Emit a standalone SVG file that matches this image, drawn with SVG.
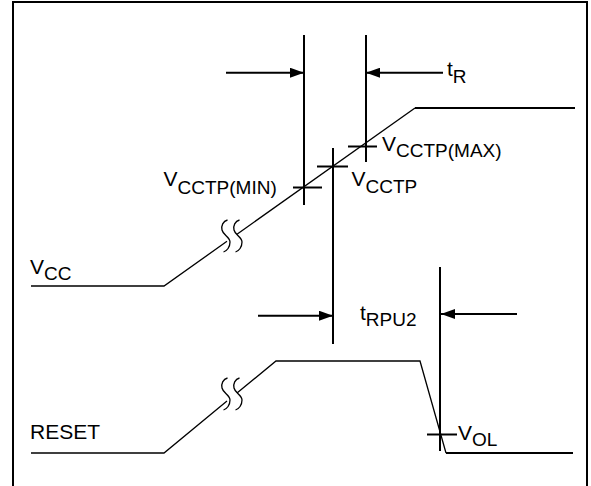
<svg xmlns="http://www.w3.org/2000/svg" width="591" height="486" viewBox="0 0 591 486">
<style>
.frame{fill:none;stroke:#000;stroke-width:2}
.thick{fill:none;stroke:#000;stroke-width:2}
.thin{fill:none;stroke:#000;stroke-width:1.3}
.brk{fill:none;stroke:#000;stroke-width:1.3}
.m{font-family:"Liberation Sans",Arial,sans-serif;font-size:21px;fill:#000}
.s{font-size:19px}
</style>
<defs>
<marker id="ah" markerWidth="14" markerHeight="10" refX="14" refY="5" orient="auto" markerUnits="userSpaceOnUse">
<path d="M0,0 L14,5 L0,10 z" fill="#000"/>
</marker>
<path id="scurve" d="M1.5,-16 C-3,-15 -5,-10 -4,-6 C-3,-1 4,1 4,6 C4,11 1,15 -2.5,16"/>
</defs>
<path class="frame" d="M13,486 V2 H587 V486"/>
<g id="vcc">
<polyline class="thin" points="31,286 164,286 227,241.3"/>
<polyline class="thin" points="237,234.2 415,108"/>
<line class="thick" x1="415" y1="108" x2="575" y2="108"/>
<g class="brk"><use href="#scurve" x="226" y="236"/><use href="#scurve" x="238" y="236"/></g>
<text class="m" x="30" y="274">V<tspan class="s" dy="6">CC</tspan></text>
</g>
<g id="reset">
<polyline class="thin" points="31,453 164,453 227,401"/>
<polyline class="thin" points="237,393 276,361 420,361 446,453"/>
<line class="thick" x1="446" y1="453" x2="573" y2="453"/>
<g class="brk"><use href="#scurve" x="226" y="394"/><use href="#scurve" x="238" y="394"/></g>
<text class="m" x="30" y="439">RESET</text>
</g>
<g id="vcctp-min">
<line class="thick" x1="293" y1="187.5" x2="322" y2="187.5"/>
<text class="m" x="163.5" y="186">V<tspan class="s" dy="7.5">CCTP(MIN)</tspan></text>
</g>
<g id="vcctp">
<line class="thick" x1="317" y1="166.5" x2="348" y2="166.5"/>
<text class="m" x="351.5" y="186">V<tspan class="s" dy="6.5">CCTP</tspan></text>
</g>
<g id="vcctp-max">
<line class="thick" x1="348" y1="146.5" x2="377" y2="146.5"/>
<text class="m" x="382" y="151">V<tspan class="s" dy="6">CCTP(MAX)</tspan></text>
</g>
<g id="vol">
<line class="thick" x1="427" y1="434.5" x2="457" y2="434.5"/>
<text class="m" x="458" y="440">V<tspan class="s" dy="6">OL</tspan></text>
</g>
<g id="tr">
<text class="m" x="447" y="76">t<tspan class="s" dy="7">R</tspan></text>
</g>
<g id="trpu2">
<text class="m" x="360" y="320">t<tspan class="s" dy="6">RPU2</tspan></text>
</g>
<g id="connectors">
<line class="thick" x1="304" y1="35" x2="304" y2="205"/>
<line class="thick" x1="366" y1="35" x2="366" y2="162"/>
<line class="thick" x1="333" y1="148" x2="333" y2="344"/>
<line class="thick" x1="440" y1="267" x2="440" y2="451"/>
<line class="thick" x1="226" y1="72.7" x2="304" y2="72.7" marker-end="url(#ah)"/>
<line class="thick" x1="443" y1="72.7" x2="366" y2="72.7" marker-end="url(#ah)"/>
<line class="thick" x1="258" y1="315.7" x2="333" y2="315.7" marker-end="url(#ah)"/>
<line class="thick" x1="517" y1="314" x2="441" y2="314" marker-end="url(#ah)"/>
</g>
</svg>
